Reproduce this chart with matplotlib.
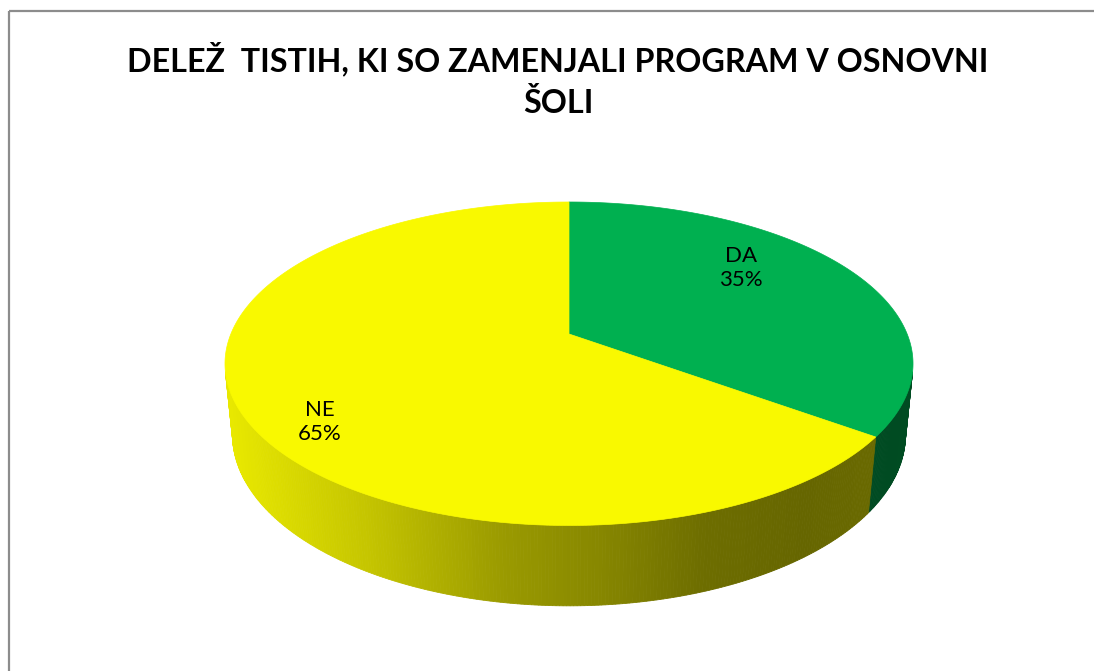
import numpy as np
import matplotlib
matplotlib.use("Agg")
import matplotlib.pyplot as plt
from matplotlib.patches import Polygon, Rectangle
from matplotlib.colors import to_rgb

# ---- data ----
title = "DELEŽ  TISTIH, KI SO ZAMENJALI PROGRAM V OSNOVNI\nŠOLI"
categories = ["DA", "NE"]
values = [35, 65]
colors = ["#00B050", "#F9F900"]
label_pos = [(741, 268), (320, 422)]

# ---- layout / projection parameters ----
W, H = 1094, 671
cx, cy = 569, 334          # projected pie centre
elev = np.deg2rad(26.9)
s, c = np.sin(elev), np.cos(elev)
L = 4.85                   # camera distance (radius units)
thick = 0.232              # pie thickness (radius units)
F = 132 * (L + c) / s      # focal scale so far edge sits at y=202
FX = F * 0.979             # horizontal scale


def proj(u, v, z):
    depth = L - c * v - s * z
    sx = u / depth
    sy = (-s * v + c * z) / depth
    return cx + FX * sx, cy - F * sy


def circ(theta_deg, z, r=1.0):
    t = np.deg2rad(theta_deg)
    u = r * np.sin(t)
    v = -r * np.cos(t)
    return proj(u, v, z)


fig = plt.figure(figsize=(W / 100, H / 100), dpi=100)
ax = fig.add_axes([0, 0, 1, 1])
ax.set_xlim(0, W)
ax.set_ylim(H, 0)
ax.axis("off")

# border
ax.add_patch(Rectangle((9, 11), W, H, fill=False, edgecolor="#8C8C8C", lw=1.6))

total = float(sum(values))
bounds = np.concatenate([[0], np.cumsum(values) / total * 360.0])

# side visibility: v > 1/(L c)
vmin = 1.0 / (L * c)
lim = np.rad2deg(np.arccos(-vmin))
vis_lo, vis_hi = lim, 360 - lim

xs_sh = [0, 0.2, 0.4, 0.55, 0.7, 0.85, 1.0]
fs_sh = [0.93, 0.79, 0.62, 0.54, 0.44, 0.41, 0.43]

left_x = circ(270, 0)[0]
right_x = circ(90, 0)[0]

# side walls
for i in range(len(values)):
    a0, a1 = bounds[i], bounds[i + 1]
    lo, hi = max(a0, vis_lo), min(a1, vis_hi)
    if hi <= lo:
        continue
    n = int((hi - lo) / 0.5) + 2
    th = np.linspace(lo, hi, n)
    base = np.array(to_rgb(colors[i]))
    for k in range(n - 1):
        p0 = circ(th[k], 0)
        p1 = circ(th[k + 1], 0)
        q1 = circ(th[k + 1], -thick)
        q0 = circ(th[k], -thick)
        xm = 0.5 * (p0[0] + p1[0])
        t = (xm - left_x) / (right_x - left_x)
        f = np.interp(t, xs_sh, fs_sh)
        col = np.clip(base * f, 0, 1)
        ax.add_patch(Polygon([p0, p1, q1, q0], closed=True, facecolor=col,
                             edgecolor=col, lw=0.6, antialiased=True))

# top faces
centre = proj(0, 0, 0)
for i in range(len(values)):
    a0, a1 = bounds[i], bounds[i + 1]
    th = np.linspace(a0, a1, 300)
    pts = [centre] + [circ(t, 0) for t in th]
    ax.add_patch(Polygon(pts, closed=True, facecolor=colors[i],
                         edgecolor=colors[i], lw=0.5))

# labels
for i, (cat, v) in enumerate(zip(categories, values)):
    x, y = label_pos[i]
    pct = v / total * 100
    ax.text(x, y, f"{cat}\n{pct:.0f}%", ha="center", va="center",
            fontsize=16, family="Lato", color="black", linespacing=1.3)

ax.text(558, 42, title, ha="center", va="top", fontsize=23.2,
        family="Lato", fontweight="bold", linespacing=1.45)

fig.savefig("out.png", dpi=100)
